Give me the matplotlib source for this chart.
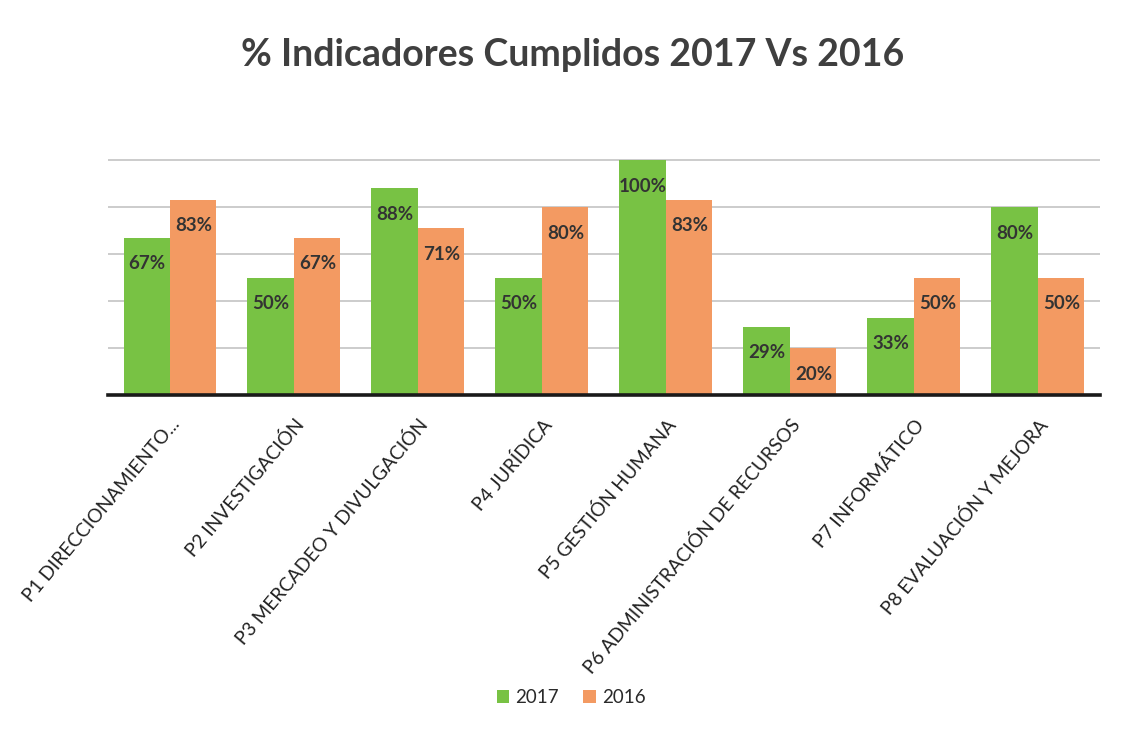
import numpy as np
import matplotlib.pyplot as plt

categories = [
    "P1 DIRECCIONAMIENTO...",
    "P2 INVESTIGACIÓN",
    "P3 MERCADEO Y DIVULGACIÓN",
    "P4 JURÍDICA",
    "P5 GESTIÓN HUMANA",
    "P6 ADMINISTRACIÓN DE RECURSOS",
    "P7 INFORMÁTICO",
    "P8 EVALUACIÓN Y MEJORA",
]
vals_2017 = [0.67, 0.50, 0.88, 0.50, 1.00, 0.29, 0.33, 0.80]
vals_2016 = [0.83, 0.67, 0.71, 0.80, 0.83, 0.20, 0.50, 0.50]
series_names = ["2017", "2016"]

green = "#78c244"
orange = "#f39a62"
text_dark = "#333333"

plt.rcParams['font.family'] = ['Lato', 'DejaVu Sans']

fig = plt.figure(figsize=(11.31, 7.29), dpi=100)
ax = fig.add_axes([0.0955, 0.458, 0.877, 0.387])

x = np.arange(len(categories))
w = 0.372
b1 = ax.bar(x - w / 2 - 0.003, vals_2017, w, color=green, label=series_names[0], zorder=3)
b2 = ax.bar(x + w / 2 + 0.003, vals_2016, w, color=orange, label=series_names[1], zorder=3)

# value labels inside the bar ends
for bars, vals in ((b1, vals_2017), (b2, vals_2016)):
    for rect, v in zip(bars, vals):
        ax.annotate(f"{round(v * 100):.0f}%",
                    (rect.get_x() + rect.get_width() / 2, v),
                    xytext=(0, -26), textcoords="offset pixels",
                    ha="center", va="center", fontsize=13.5, fontweight="bold",
                    color=text_dark, zorder=4)

ax.set_xlim(-0.5, len(categories) - 0.5)
ax.set_ylim(0, 1.2)
ax.set_yticks([0.2, 0.4, 0.6, 0.8, 1.0])
ax.yaxis.grid(True, color="#c8c8c8", linewidth=1.3, zorder=0)
ax.tick_params(axis="y", left=False, labelleft=False)
ax.tick_params(axis="x", length=0, pad=15)
for s in ("top", "right", "left"):
    ax.spines[s].set_visible(False)
ax.spines["bottom"].set_color("#1a1a1a")
ax.spines["bottom"].set_linewidth(2.6)
ax.spines["bottom"].set_zorder(5)

ax.set_xticks(x)
ax.set_xticklabels(categories, rotation=50, ha="right", rotation_mode="anchor",
                   fontsize=13.8, color="#222222")

fig.text(0.506, 0.925, "% Indicadores Cumplidos 2017 Vs 2016", ha="center", va="center",
         fontsize=27, fontweight="bold", color="#3f3f3f")

fig.legend(loc="center", bbox_to_anchor=(0.505, 0.043), ncol=2, frameon=False,
           fontsize=13.5, handlelength=0.65, handleheight=0.65, handletextpad=0.35,
           columnspacing=1.3, labelcolor="#2a2a2a")

fig.savefig("out.png", dpi=100, facecolor="white")
